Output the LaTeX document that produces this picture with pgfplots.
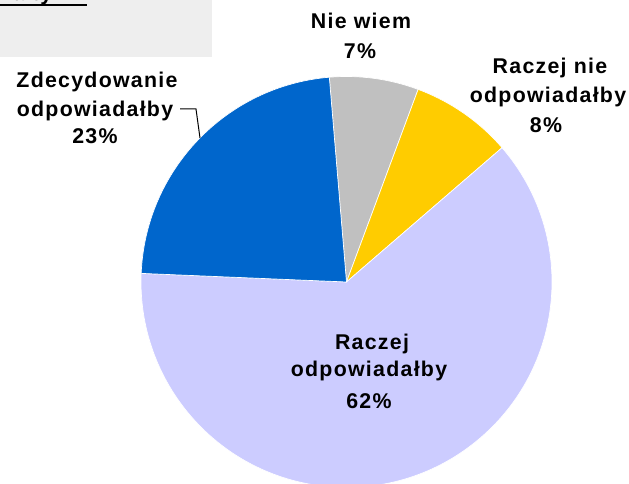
\documentclass[border=0pt]{standalone}
\usepackage{pgfplots}
\pgfplotsset{compat=1.18}
\usepackage{pgfplotstable}
\usepackage{fontspec}
\setmainfont{Liberation Sans}[LetterSpace=6]
\definecolor{slice0}{HTML}{C0C0C0}
\definecolor{slice1}{HTML}{FFCC00}
\definecolor{slice2}{HTML}{CCCCFF}
\definecolor{slice3}{HTML}{0066CC}
\definecolor{gbox}{HTML}{EEEEEE}
\tikzset{lab/.style={font=\fontsize{16}{19}\selectfont\bfseries, inner sep=0pt}}
\pgfplotstableread[col sep=comma]{
label,value
Nie wiem,7
Raczej nie odpowiadałby,8
Raczej odpowiadałby,62
Zdecydowanie odpowiadałby,23
}\piedata
\begin{document}
\begin{tikzpicture}
\def\cum{94.8}
\pgfplotsforeachungrouped \i in {0,...,3}{%
  \pgfplotstablegetelem{\i}{value}\of\piedata
  \pgfmathsetmacro\endang{\cum-3.6*\pgfplotsretval}%
  \expandafter\xdef\csname sa\i\endcsname{\cum}%
  \expandafter\xdef\csname ea\i\endcsname{\endang}%
  \xdef\cum{\endang}%
}
\begin{axis}[hide axis, scale only axis, width=471.75pt, height=363pt,
  xmin=0, xmax=629, ymin=0, ymax=484, clip=true]
\fill[gbox] (axis cs:0,427) rectangle (axis cs:212,484);
\pgfplotsinvokeforeach{0,...,3}{
  \fill[slice#1, draw=white, line width=0.5pt] (axis cs:346.5,202) -- +(\csname sa#1\endcsname:154.125pt) arc[start angle=\csname sa#1\endcsname, end angle=\csname ea#1\endcsname, radius=154.125pt] -- cycle;
}
\node[lab, anchor=base east] at (axis cs:87,483) {Czy jest Pan(i) za tym?};
\draw[line width=1.2pt] (axis cs:0,479) -- (axis cs:87,479);
\node[lab, anchor=base] at (axis cs:361,455) {Nie wiem};
\node[lab, anchor=base] at (axis cs:360,425) {7\%};
\node[lab, anchor=base] at (axis cs:550,410) {Raczej nie};
\node[lab, anchor=base] at (axis cs:548,381) {odpowiadałby};
\node[lab, anchor=base] at (axis cs:546,351) {8\%};
\node[lab, anchor=base] at (axis cs:372,134) {Raczej};
\node[lab, anchor=base] at (axis cs:369,107) {odpowiadałby};
\node[lab, anchor=base] at (axis cs:369,75) {62\%};
\node[lab, anchor=base] at (axis cs:97,396) {Zdecydowanie};
\node[lab, anchor=base] at (axis cs:95,367) {odpowiadałby};
\node[lab, anchor=base] at (axis cs:95,340) {23\%};
\draw[line width=0.75pt] (axis cs:180,375) -- (axis cs:196,375) -- (axis cs:200,346);
\end{axis}
\pgfresetboundingbox
\useasboundingbox (current axis.south west) rectangle (current axis.north east);
\end{tikzpicture}
\end{document}
